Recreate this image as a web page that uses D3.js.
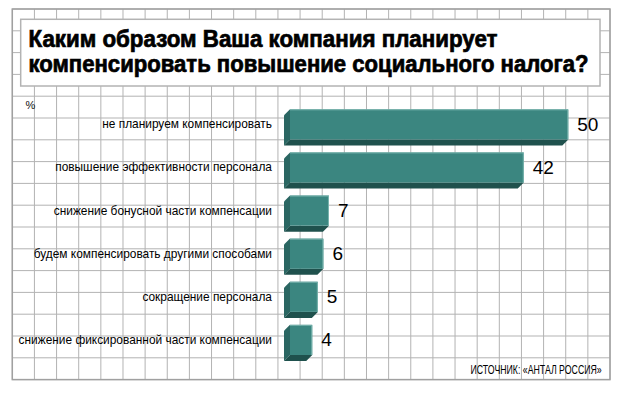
<!DOCTYPE html>
<html>
<head>
<meta charset="utf-8">
<script src="https://cdn.jsdelivr.net/npm/d3@7"></script>
<style>
  body { margin: 0; background: #fff; }
  svg { display: block; }
</style>
</head>
<body>
<div id="chart"></div>
<script>
const categories = [
  'не планируем компенсировать',
  'повышение эффективности персонала',
  'снижение бонусной части компенсации',
  'будем компенсировать другими способами',
  'сокращение персонала',
  'снижение фиксированной части компенсации'
];
const values = [50, 42, 7, 6, 5, 4];
const titleLines = [
  'Каким образом Ваша компания планирует',
  'компенсировать повышение социального налога?'
];
const unitLabel = '%';
const sourceLabel = 'ИСТОЧНИК: «АНТАЛ РОССИЯ»';

const width = 622, height = 395;

const svg = d3.select('#chart')
  .append('svg')
  .attr('width', width)
  .attr('height', height);

// background grid (squared paper)
const grid = svg.append('g').attr('class', 'grid');
const gx = d3.scaleLinear().domain([0, 27]).range([12.3, 610]);
const gy = d3.scaleLinear().domain([0, 17]).range([9, 379.6]);

grid.selectAll('.vline')
  .data(d3.range(0, 28))
  .enter()
  .append('line')
  .attr('class', 'vline')
  .attr('x1', d => gx(d)).attr('x2', d => gx(d))
  .attr('y1', gy(0)).attr('y2', gy(17))
  .attr('stroke', '#b3b3b3')
  .attr('stroke-width', 1);

grid.selectAll('.hline')
  .data(d3.range(0, 18))
  .enter()
  .append('line')
  .attr('class', 'hline')
  .attr('x1', gx(0)).attr('x2', gx(27))
  .attr('y1', d => gy(d)).attr('y2', d => gy(d))
  .attr('stroke', '#b3b3b3')
  .attr('stroke-width', 1);

grid.append('rect')
  .attr('x', gx(0)).attr('y', gy(0))
  .attr('width', gx(27) - gx(0)).attr('height', gy(17) - gy(0))
  .attr('fill', 'none')
  .attr('stroke', '#a0a0a0')
  .attr('stroke-width', 1.5);

// title box
svg.append('rect')
  .attr('x', 20.7).attr('y', 19.3)
  .attr('width', 579.3).attr('height', 66.7)
  .attr('fill', '#fff')
  .attr('stroke', '#b3b3b3')
  .attr('stroke-width', 1.5);

svg.selectAll('.title')
  .data(titleLines)
  .enter()
  .append('text')
  .attr('class', 'title')
  .attr('x', 28.5)
  .attr('y', (d, i) => 46.7 + i * 25)
  .attr('textLength', (d, i) => i === 0 ? 469 : 560)
  .attr('lengthAdjust', 'spacingAndGlyphs')
  .attr('fill', '#000')
  .attr('stroke', '#000')
  .attr('stroke-width', 0.7)
  .style('font-family', '"Liberation Sans", Arial, sans-serif')
  .style('font-weight', 'bold')
  .style('font-size', '23px')
  .text(d => d);

svg.append('text')
  .attr('x', 25.5).attr('y', 108.5)
  .attr('fill', '#111')
  .style('font-family', '"Liberation Sans", Arial, sans-serif')
  .style('font-size', '11px')
  .text(unitLabel);

// scales
const x = d3.scaleLinear()
  .domain([0, 50])
  .range([290, 568.3]);

const y = d3.scaleBand()
  .domain(categories)
  .range([109.3, 355])
  .paddingInner(0.3)
  .paddingOuter(0);

const depth = 6;
const data = categories.map((c, i) => ({ name: c, value: values[i] }));

const bars = svg.selectAll('.bar')
  .data(data)
  .enter()
  .append('g')
  .attr('class', 'bar');

// left side face
bars.append('path')
  .attr('fill', '#2a6662')
  .attr('d', d => {
    const x0 = x(0), y0 = y(d.name), h = y.bandwidth();
    return `M${x0},${y0} L${x0 - depth},${y0 + depth} L${x0 - depth},${y0 + h + depth} L${x0},${y0 + h} Z`;
  });

// bottom face
bars.append('path')
  .attr('fill', '#1f514d')
  .attr('d', d => {
    const x0 = x(0), x1 = x(d.value), y1 = y(d.name) + y.bandwidth();
    return `M${x0},${y1} L${x0 - depth},${y1 + depth} L${x1 - depth},${y1 + depth} L${x1},${y1} Z`;
  });

// front face
bars.append('rect')
  .attr('x', x(0))
  .attr('y', d => y(d.name))
  .attr('width', d => x(d.value) - x(0))
  .attr('height', y.bandwidth())
  .attr('fill', '#3b8680');

// light top/right edge
bars.append('path')
  .attr('fill', 'none')
  .attr('stroke', '#7bb5af')
  .attr('stroke-width', 1)
  .attr('d', d => {
    const x0 = x(0), x1 = x(d.value), y0 = y(d.name) + 0.5, h = y.bandwidth();
    return `M${x0},${y0} L${x1 - 0.5},${y0} L${x1 - 0.5},${y0 + h - 0.5}`;
  });

// value labels
bars.append('text')
  .attr('x', d => x(d.value) + 9)
  .attr('y', d => y(d.name) + y.bandwidth() / 2 + 6.5)
  .attr('fill', '#000')
  .style('font-family', '"Liberation Sans", Arial, sans-serif')
  .style('font-size', '19px')
  .text(d => d.value);

// category labels
svg.selectAll('.cat')
  .data(categories)
  .enter()
  .append('text')
  .attr('class', 'cat')
  .attr('x', 272)
  .attr('y', d => y(d) + y.bandwidth() / 2 + 4)
  .attr('text-anchor', 'end')
  .attr('fill', '#000')
  .style('font-family', '"Liberation Sans", Arial, sans-serif')
  .style('font-size', '11.9px')
  .text(d => d);

// source (condensed by horizontal scale)
svg.append('text')
  .attr('transform', 'translate(601.7, 374.3) scale(0.73, 1)')
  .attr('text-anchor', 'end')
  .attr('fill', '#000')
  .style('font-family', '"Liberation Sans", Arial, sans-serif')
  .style('font-size', '12px')
  .text(sourceLabel);
</script>
</body>
</html>
